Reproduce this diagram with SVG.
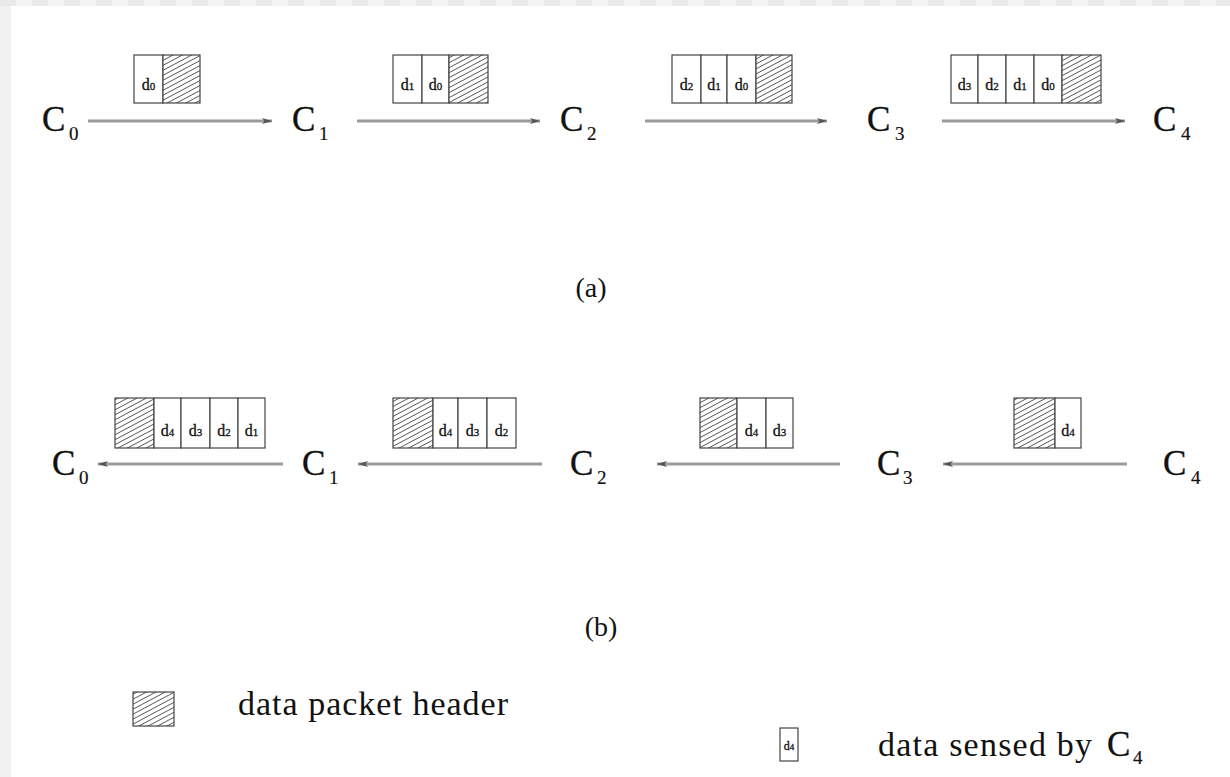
<svg xmlns="http://www.w3.org/2000/svg" width="1230" height="777" viewBox="0 0 1230 777">
<defs>
<pattern id="hatch" width="6" height="4.4" patternUnits="userSpaceOnUse" patternTransform="rotate(-28)">
<rect width="6" height="4.4" fill="#fff"/>
<line x1="0" y1="2.2" x2="6" y2="2.2" stroke="#555" stroke-width="0.9"/>
</pattern>
<pattern id="chk" width="32" height="6" patternUnits="userSpaceOnUse">
<rect width="16" height="6" fill="#e9e9e9"/><rect x="16" width="16" height="6" fill="#f4f4f4"/>
</pattern>
<marker id="ah" viewBox="0 0 10 6" refX="10" refY="3" markerWidth="10" markerHeight="6" markerUnits="userSpaceOnUse" orient="auto">
<path d="M0,0 L10,3 L0,6 L2.5,3 Z" fill="#555"/>
</marker>
</defs>
<style>
.lbl{font-family:"Liberation Serif","Times New Roman",serif;fill:#111}
.node{font-size:35px;stroke:#111;stroke-width:0.4}
.sub{font-size:19px;stroke:#111;stroke-width:0.2}
.cell{fill:#fff;stroke:#444;stroke-width:1.2}
.hat{fill:url(#hatch);stroke:#444;stroke-width:1.2}
.arr{stroke:#9a9a9a;stroke-width:3;fill:none;marker-end:url(#ah)}
.d{font-size:16px;text-anchor:middle;stroke:#111;stroke-width:0.3}
.dg{font-size:11px}
.cap{font-size:28px;text-anchor:middle}
.leg{font-size:34px}
</style>
<rect width="1230" height="777" fill="#f1f1f1"/>
<rect x="11" y="6" width="1219" height="771" fill="#fff"/>
<rect width="1230" height="6" fill="url(#chk)"/>

<g id="connectors">
<line class="arr" x1="88" y1="121" x2="272" y2="121"/>
<line class="arr" x1="357" y1="121" x2="540" y2="121"/>
<line class="arr" x1="645" y1="121" x2="827" y2="121"/>
<line class="arr" x1="942" y1="121" x2="1125" y2="121"/>
<line class="arr" x1="283" y1="464" x2="98" y2="464"/>
<line class="arr" x1="542" y1="464" x2="358" y2="464"/>
<line class="arr" x1="840" y1="464" x2="657" y2="464"/>
<line class="arr" x1="1127" y1="464" x2="943" y2="464"/>
</g>

<g id="a-C0"><text class="lbl node" x="42" y="131">C</text><text class="lbl sub" x="69" y="140">0</text></g>
<g id="a-C1"><text class="lbl node" x="292" y="131">C</text><text class="lbl sub" x="319" y="140">1</text></g>
<g id="a-C2"><text class="lbl node" x="560" y="131">C</text><text class="lbl sub" x="587" y="140">2</text></g>
<g id="a-C3"><text class="lbl node" x="867" y="131">C</text><text class="lbl sub" x="895" y="140">3</text></g>
<g id="a-C4"><text class="lbl node" x="1153" y="131">C</text><text class="lbl sub" x="1181" y="140">4</text></g>

<g id="a-packet1">
<rect class="cell" x="134" y="55" width="29" height="48"/>
<rect class="hat" x="163" y="55" width="37" height="48"/>
<text class="lbl d" x="148.5" y="90">d<tspan class="dg">0</tspan></text>
</g>
<g id="a-packet2">
<rect class="cell" x="393" y="55" width="29" height="48"/>
<rect class="cell" x="422" y="55" width="27" height="48"/>
<rect class="hat" x="449" y="55" width="39" height="48"/>
<text class="lbl d" x="407.5" y="90">d<tspan class="dg">1</tspan></text>
<text class="lbl d" x="435.5" y="90">d<tspan class="dg">0</tspan></text>
</g>
<g id="a-packet3">
<rect class="cell" x="672" y="55" width="29" height="48"/>
<rect class="cell" x="701" y="55" width="26" height="48"/>
<rect class="cell" x="727" y="55" width="29" height="48"/>
<rect class="hat" x="756" y="55" width="36" height="48"/>
<text class="lbl d" x="686.5" y="90">d<tspan class="dg">2</tspan></text>
<text class="lbl d" x="714" y="90">d<tspan class="dg">1</tspan></text>
<text class="lbl d" x="741.5" y="90">d<tspan class="dg">0</tspan></text>
</g>
<g id="a-packet4">
<rect class="cell" x="951" y="55" width="27" height="48"/>
<rect class="cell" x="978" y="55" width="28" height="48"/>
<rect class="cell" x="1006" y="55" width="28" height="48"/>
<rect class="cell" x="1034" y="55" width="28" height="48"/>
<rect class="hat" x="1062" y="55" width="39" height="48"/>
<text class="lbl d" x="964.5" y="90">d<tspan class="dg">3</tspan></text>
<text class="lbl d" x="992" y="90">d<tspan class="dg">2</tspan></text>
<text class="lbl d" x="1020" y="90">d<tspan class="dg">1</tspan></text>
<text class="lbl d" x="1048" y="90">d<tspan class="dg">0</tspan></text>
</g>

<text id="cap-a" class="lbl cap" x="591" y="297">(a)</text>

<g id="b-C0"><text class="lbl node" x="52" y="475">C</text><text class="lbl sub" x="79" y="484">0</text></g>
<g id="b-C1"><text class="lbl node" x="302" y="475">C</text><text class="lbl sub" x="329" y="484">1</text></g>
<g id="b-C2"><text class="lbl node" x="570" y="475">C</text><text class="lbl sub" x="597" y="484">2</text></g>
<g id="b-C3"><text class="lbl node" x="877" y="475">C</text><text class="lbl sub" x="903" y="484">3</text></g>
<g id="b-C4"><text class="lbl node" x="1163" y="475">C</text><text class="lbl sub" x="1191" y="484">4</text></g>

<g id="b-packet1">
<rect class="hat" x="115" y="398" width="39" height="50"/>
<rect class="cell" x="154" y="398" width="27" height="50"/>
<rect class="cell" x="181" y="398" width="29" height="50"/>
<rect class="cell" x="210" y="398" width="28" height="50"/>
<rect class="cell" x="238" y="398" width="27" height="50"/>
<text class="lbl d" x="167.5" y="436">d<tspan class="dg">4</tspan></text>
<text class="lbl d" x="195.5" y="436">d<tspan class="dg">3</tspan></text>
<text class="lbl d" x="224" y="436">d<tspan class="dg">2</tspan></text>
<text class="lbl d" x="251.5" y="436">d<tspan class="dg">1</tspan></text>
</g>
<g id="b-packet2">
<rect class="hat" x="393" y="398" width="40" height="50"/>
<rect class="cell" x="433" y="398" width="25" height="50"/>
<rect class="cell" x="458" y="398" width="29" height="50"/>
<rect class="cell" x="487" y="398" width="29" height="50"/>
<text class="lbl d" x="445.5" y="436">d<tspan class="dg">4</tspan></text>
<text class="lbl d" x="472.5" y="436">d<tspan class="dg">3</tspan></text>
<text class="lbl d" x="501.5" y="436">d<tspan class="dg">2</tspan></text>
</g>
<g id="b-packet3">
<rect class="hat" x="700" y="398" width="37" height="50"/>
<rect class="cell" x="737" y="398" width="29" height="50"/>
<rect class="cell" x="766" y="398" width="27" height="50"/>
<text class="lbl d" x="751.5" y="436">d<tspan class="dg">4</tspan></text>
<text class="lbl d" x="779.5" y="436">d<tspan class="dg">3</tspan></text>
</g>
<g id="b-packet4">
<rect class="hat" x="1014" y="398" width="41" height="50"/>
<rect class="cell" x="1055" y="398" width="26" height="50"/>
<text class="lbl d" x="1068" y="436">d<tspan class="dg">4</tspan></text>
</g>

<text id="cap-b" class="lbl cap" x="601" y="636">(b)</text>

<g id="legend-header">
<rect class="hat" x="133" y="692" width="41" height="34"/>
<text class="lbl leg" x="238" y="715" textLength="270" lengthAdjust="spacing">data packet header</text>
</g>
<g id="legend-data">
<rect class="cell" x="780" y="728" width="18" height="33"/>
<text class="lbl d" x="789" y="750" style="font-size:12px">d<tspan style="font-size:9px">4</tspan></text>
<text class="lbl leg" x="878" y="756" textLength="214" lengthAdjust="spacing">data sensed by</text>
<text class="lbl node" x="1107" y="756">C</text>
<text class="lbl sub" x="1133" y="764">4</text>
</g>
</svg>
